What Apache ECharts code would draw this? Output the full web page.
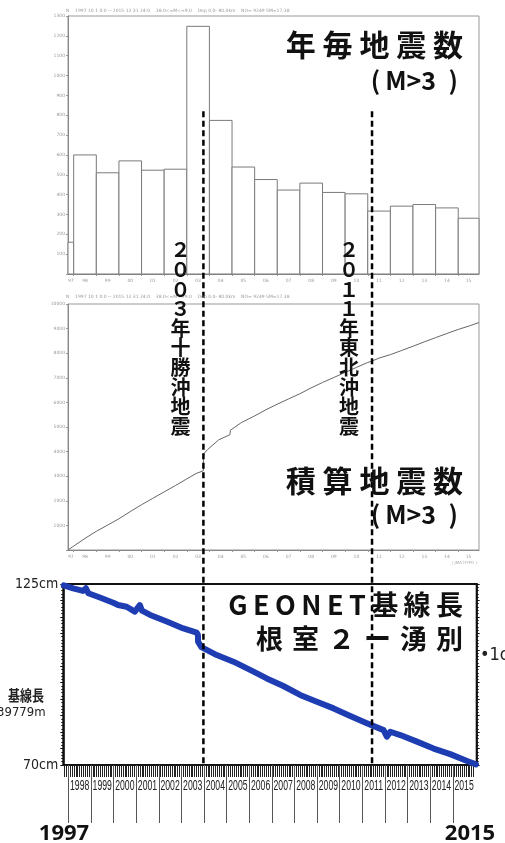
<!DOCTYPE html>
<html>
<head>
<meta charset="utf-8">
<script src="https://cdn.jsdelivr.net/npm/echarts@6/dist/echarts.min.js"></script>
<style>
  html, body { margin: 0; padding: 0; background: #fff; }
  #chart { width: 505px; height: 843px; }
</style>
</head>
<body>
<div id="chart"></div>
<script>
// ---- Annual number of M>3 earthquakes (1997 covers October–December only) ----
const years = [1997, 1998, 1999, 2000, 2001, 2002, 2003, 2004, 2005, 2006, 2007, 2008, 2009, 2010, 2011, 2012, 2013, 2014, 2015];
const yearShortLabels = ['97', '98', '99', '00', '01', '02', '03', '04', '05', '06', '07', '08', '09', '10', '11', '12', '13', '14', '15'];
const annualCounts = [160, 600, 510, 570, 523, 528, 1248, 774, 539, 476, 423, 458, 411, 404, 317, 342, 350, 333, 281];

// ---- Cumulative number of M>3 earthquakes ----
const cumDates = ['1997-10-01', '1998-01-01', '1998-07-01', '1999-01-01', '1999-07-01', '2000-01-01', '2000-07-01', '2001-01-01',
  '2001-07-01', '2002-01-01', '2002-07-01', '2003-01-01', '2003-06-01', '2003-09-25', '2003-09-26', '2003-10-05', '2003-10-25',
  '2003-12-01', '2004-01-01', '2004-06-01', '2004-11-28', '2004-12-06', '2005-01-01', '2005-06-01', '2006-01-01', '2006-07-01',
  '2007-01-01', '2007-07-01', '2008-01-01', '2008-07-01', '2009-01-01', '2009-07-01', '2010-01-01', '2010-07-01', '2011-01-01',
  '2011-03-11', '2011-07-01', '2012-01-01', '2012-07-01', '2013-01-01', '2013-07-01', '2014-01-01', '2014-07-01', '2015-01-01',
  '2015-07-01', '2015-12-01'];
const cumCounts = [0, 160, 470, 760, 1010, 1270, 1560, 1840, 2100, 2363, 2620, 2891, 3110, 3220, 3800, 3920, 4000,
  4080, 4139, 4480, 4690, 4870, 4913, 5180, 5452, 5700,
  5928, 6140, 6351, 6590, 6809, 7010, 7220, 7420, 7624,
  7680, 7800, 7941, 8110, 8283, 8460, 8633, 8800, 8966,
  9110, 9247];

// ---- GEONET baseline length, Nemuro 2 – Yubetsu (cm, relative) ----
const baseDates = ['1997-10-20', '1998-03-20', '1998-08-25', '1998-10-12', '1998-11-20', '1999-05-25', '1999-12-28',
  '2000-03-15', '2000-07-30', '2000-12-10', '2001-03-01', '2001-04-05', '2001-08-15', '2002-05-10', '2003-02-01',
  '2003-09-05', '2003-09-25', '2003-09-27', '2003-11-20', '2004-07-25', '2005-04-20', '2006-01-15', '2006-10-10',
  '2007-07-05', '2008-04-01', '2008-12-28', '2009-09-25', '2010-06-20', '2011-03-15', '2011-12-10', '2012-02-01',
  '2012-03-28', '2012-09-05', '2013-06-01', '2014-02-25', '2014-11-20', '2015-08-20', '2016-01-10'];
const baseLengths = [124.6, 123.7, 122.9, 123.7, 122.2, 120.9, 119.3,
  118.6, 118.1, 116.6, 118.6, 116.9, 115.6, 113.6, 111.5,
  110.2, 109.5, 107.5, 105.8, 103.4, 101.4, 98.9, 96.3,
  94.0, 91.3, 89.2, 87.2, 84.9, 82.7, 80.6, 78.6,
  80.1, 79.1, 77.1, 75.0, 73.3, 71.2, 70.2];
const baseTicks = [70, 125];
const baseYearLabels = ['1998', '1999', '2000', '2001', '2002', '2003', '2004', '2005', '2006', '2007', '2008', '2009',
  '2010', '2011', '2012', '2013', '2014', '2015'];

// ---- Large earthquakes marked across all panels ----
const quakeDates = ['2003-09-26', '2011-03-11'];
const quakeNames = ['２００３年十勝沖地震', '２０１１年東北沖地震'];

// date string -> decimal year
function toYear(s) {
  const d = new Date(s + 'T00:00:00Z');
  const y = d.getUTCFullYear();
  const a = Date.UTC(y, 0, 1), b = Date.UTC(y + 1, 0, 1);
  return y + (d.getTime() - a) / (b - a);
}

const CJK = '"Noto Sans CJK JP", "Noto Sans", sans-serif';
const NARROW = '"Liberation Sans Narrow", "DejaVu Sans Condensed", sans-serif';

const X0 = toYear('1997-10-01'), X1 = toYear('2015-12-02');   // seismicity panels
const B0 = toYear('1997-10-12'), B1 = toYear('2016-01-22');   // baseline panel

const yearStarts = years.slice(1);
const centersTop = years.map(y => (Math.max(y, X0) + Math.min(y + 1, X1)) / 2);
const baseYears = baseYearLabels.map(Number);
const baseLabelData = baseYears.map((y, i) => [(Math.max(y, B0) + Math.min(y + 1, B1)) / 2, 70, i]);

function shortLabel(v) {
  const i = years.indexOf(Math.floor(v + 1e-9));
  return i >= 0 ? yearShortLabels[i] : '';
}

const barData = years.map((y, i) => [Math.max(y, X0), Math.min(y + 1, X1), annualCounts[i]]);
const cumData = cumDates.map((d, i) => [toYear(d), cumCounts[i]]);
const baseData = baseDates.map((d, i) => [toYear(d), baseLengths[i]]);

const tinyAxisLabel = { fontSize: 4.5, color: '#999', margin: 3, fontFamily: 'DejaVu Sans' };

function seismicXAxis(gridIndex) {
  return {
    type: 'value', gridIndex, min: X0, max: X1, splitNumber: 18,
    axisLine: { lineStyle: { color: '#888', width: 1 } },
    axisTick: { show: true, customValues: yearStarts, length: 2, lineStyle: { color: '#999' } },
    axisLabel: Object.assign({}, tinyAxisLabel, {
      customValues: centersTop, formatter: v => shortLabel(v), margin: 4, showMinLabel: true, showMaxLabel: true
    }),
    splitLine: { show: false }
  };
}

const chart = echarts.init(document.getElementById('chart'), null, { renderer: 'canvas' });

chart.setOption({
  animation: false,
  backgroundColor: '#fff',
  grid: [
    { left: 68, top: 16, width: 411, height: 258, show: true, borderColor: '#999', borderWidth: 1, backgroundColor: 'transparent' },
    { left: 68, top: 304, width: 411, height: 246, show: true, borderColor: '#999', borderWidth: 1, backgroundColor: 'transparent' },
    { left: 63.3, top: 584, width: 413.4, height: 181, show: true, borderColor: '#111', borderWidth: 2, backgroundColor: 'transparent' }
  ],
  xAxis: [
    seismicXAxis(0),
    seismicXAxis(1),
    {
      type: 'value', gridIndex: 2, min: B0, max: B1, splitNumber: 18,
      axisLine: { lineStyle: { color: '#111', width: 1.5 } },
      axisTick: { show: true, customValues: baseYears, length: 58, lineStyle: { color: '#555', width: 1 } },
      minorTick: { show: true, splitNumber: 12, length: 12, lineStyle: { color: '#222', width: 1 } },
      axisLabel: { show: false },
      splitLine: { show: false }
    }
  ],
  yAxis: [
    {
      type: 'value', gridIndex: 0, min: 0, max: 1300, interval: 100,
      axisLine: { show: true, lineStyle: { color: '#888' } },
      axisTick: { show: true, length: 2, lineStyle: { color: '#999' } },
      axisLabel: Object.assign({}, tinyAxisLabel, { formatter: v => (v === 0 ? '' : String(v)) }),
      splitLine: { show: false }
    },
    {
      type: 'value', gridIndex: 1, min: 0, max: 10000, interval: 1000,
      axisLine: { show: true, lineStyle: { color: '#888' } },
      axisTick: { show: true, length: 2, lineStyle: { color: '#999' } },
      axisLabel: Object.assign({}, tinyAxisLabel, { formatter: v => (v === 0 ? '' : String(v)) }),
      splitLine: { show: false }
    },
    {
      type: 'value', gridIndex: 2, min: 70, max: 125, interval: 5,
      axisLine: { show: true, lineStyle: { color: '#111', width: 1.5 } },
      axisTick: { show: true, length: 3, lineStyle: { color: '#111' } },
      minorTick: { show: true, splitNumber: 5, length: 2, lineStyle: { color: '#111' } },
      axisLabel: { formatter: v => (baseTicks.includes(v) ? v + 'cm' : ''), fontSize: 14, fontFamily: NARROW, color: '#222', margin: 5 },
      splitLine: { show: false }
    },
    {
      type: 'value', gridIndex: 2, position: 'right', min: 70, max: 125, interval: 5,
      axisLine: { show: true, lineStyle: { color: '#111', width: 1.5 } },
      axisTick: { show: true, length: 3, lineStyle: { color: '#111' } },
      minorTick: { show: true, splitNumber: 5, length: 2, lineStyle: { color: '#111' } },
      axisLabel: { show: false },
      splitLine: { show: false }
    }
  ],
  series: [
    {
      name: '年毎地震数', type: 'custom', xAxisIndex: 0, yAxisIndex: 0,
      encode: { x: [0, 1], y: 2 },
      data: barData,
      renderItem(params, api) {
        const a = api.coord([api.value(0), 0]);
        const b = api.coord([api.value(1), api.value(2)]);
        return {
          type: 'rect',
          shape: { x: a[0], y: b[1], width: b[0] - a[0], height: a[1] - b[1] },
          style: { fill: '#fff', stroke: '#7a7a7a', lineWidth: 1 }
        };
      }
    },
    {
      name: '積算地震数', type: 'line', xAxisIndex: 1, yAxisIndex: 1,
      data: cumData, showSymbol: false, symbol: 'none',
      lineStyle: { color: '#666', width: 1 }
    },
    {
      name: '基線長', type: 'line', xAxisIndex: 2, yAxisIndex: 2,
      data: baseData, showSymbol: false, symbol: 'none',
      lineStyle: { color: '#1f3db3', width: 6, join: 'round', cap: 'round' }
    },
    {
      // condensed year labels under the baseline time axis
      name: 'years', type: 'custom', xAxisIndex: 2, yAxisIndex: 2, silent: true, clip: false,
      data: baseLabelData,
      renderItem(params, api) {
        const p = api.coord([api.value(0), api.value(1)]);
        return {
          type: 'text', x: p[0], y: p[1] + 21, scaleX: 0.62,
          style: {
            text: baseYearLabels[api.value(2)], fontSize: 14, fontFamily: '"Liberation Sans", sans-serif',
            fill: '#222', align: 'center', verticalAlign: 'middle'
          }
        };
      }
    }
  ]
});

// ---- Annotations ----
const texts = [];
function addText(text, x, y, fontSize, opts) {
  texts.push({
    type: 'text', x, y, z: 100,
    style: Object.assign({ text, fontSize, fontFamily: CJK, fill: '#111', align: 'right', verticalAlign: 'middle' }, opts || {})
  });
}

// run headers of the seismicity plots
const runHeader = 'N    1997 10 1 0:0 -- 2015 12 31 24:0    38.0<=M<=9.0    Dep 0.0- 80.0km    NO= 9249 SM=17.38';
addText(runHeader, 66, 11, 4.5, { align: 'left', fill: '#999', fontFamily: 'DejaVu Sans' });
addText(runHeader, 66, 297, 4.5, { align: 'left', fill: '#999', fontFamily: 'DejaVu Sans' });
addText('( JMA HYPO )', 477, 563, 4, { fill: '#aaa', fontFamily: 'DejaVu Sans' });

// panel titles
const bold = { fontWeight: 'bold' };
addText('年 毎 地 震 数', 463, 45, 30, bold);
addText('(\u2009M>3\u2002)', 458, 80, 25, bold);
addText('積 算 地 震 数', 463, 481, 30, bold);
addText('(\u2009M>3\u2002)', 458, 514, 25, bold);
addText('G\u2009E\u2009O\u2009N\u2009E\u2009T\u2009基\u2009線\u2009長', 463, 605, 27, bold);
addText('根\u2004室\u2004２\u2004ー\u2004湧\u2004別', 463, 639, 27, bold);

// baseline axis notes
texts.push({ type: 'text', x: 8, y: 695, z: 100, scaleX: 0.8,
  style: { text: '基線長', fontSize: 15, fontWeight: 'bold', fontFamily: CJK, fill: '#222', align: 'left', verticalAlign: 'middle' } });
addText('39779m', -3, 713, 13, { align: 'left', fontFamily: NARROW, fill: '#222' });
addText('•1cm', 480, 655, 18, { align: 'left', fontFamily: NARROW, fill: '#222' });

// first / last year of the record
const yearFont = { align: 'center', fontWeight: 'bold', fontFamily: '"Open Sans", "Noto Sans", sans-serif' };
addText('1997', 64, 834, 22, yearFont);
addText('2015', 470, 834, 22, yearFont);

// dashed earthquake markers spanning the three panels, with vertical names
const yTop = chart.convertToPixel({ yAxisIndex: 0 }, 820);
const yBottom = chart.convertToPixel({ yAxisIndex: 2 }, 70);
quakeDates.forEach((d, i) => {
  const x = chart.convertToPixel({ xAxisIndex: 0 }, toYear(d));
  texts.push({
    type: 'line', z: 90,
    shape: { x1: x, y1: yTop, x2: x, y2: yBottom },
    style: { stroke: '#000', lineWidth: 2.5, lineDash: [6, 3.5] }
  });
  texts.push({
    type: 'text', x: x - 23, y: 240, z: 100,
    style: { text: Array.from(quakeNames[i]).join('\n'), fontSize: 20, lineHeight: 19.6, fontFamily: CJK,
      fontWeight: 'bold', fill: '#111', align: 'center', verticalAlign: 'top' }
  });
});

chart.setOption({ graphic: { elements: texts } });
</script>
</body>
</html>
